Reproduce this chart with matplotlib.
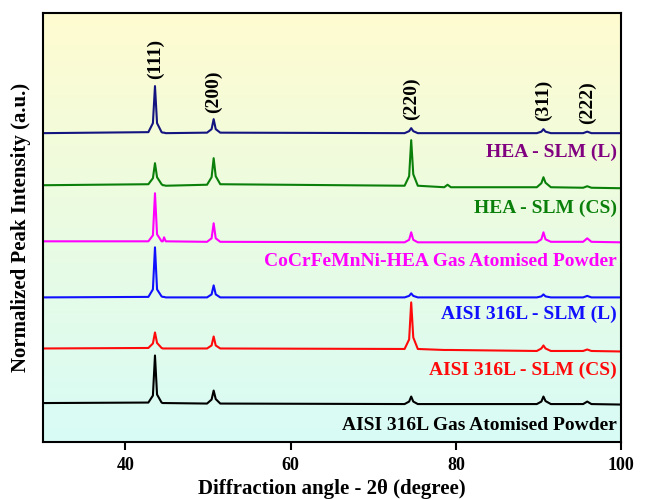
import numpy as np
import matplotlib
matplotlib.use('Agg')
import matplotlib.pyplot as plt
from matplotlib.colors import LinearSegmentedColormap

plt.rcParams['font.family'] = ['Liberation Serif', 'DejaVu Serif']
plt.rcParams['font.weight'] = 'bold'

# 2-theta sample points (peak feet, shoulders and tops)
two_theta = [30,
             42.8, 43.35, 43.6, 43.85, 44.4,
             44.55, 44.7, 44.9,
             49.9, 50.45, 50.7, 50.95, 51.5,
             73.8, 74.35, 74.6, 74.85, 75.4,
             78.6, 79.0, 79.4,
             89.8, 90.35, 90.6, 90.85, 91.5,
             95.4, 95.9, 96.4,
             100]

# stacked intensities (offset already included)
hea_slm_l = [308,
             309, 318, 355, 318, 309,
             308.5, 308.5, 308,
             308.5, 312, 322, 312, 308.5,
             308, 310, 313, 310, 308,
             308, 308, 308,
             308, 309.5, 312, 309.5, 308,
             308, 309.5, 308,
             308]
hea_slm_cs = [256,
              257, 263, 278, 264, 257,
              256, 256, 255.5,
              256.5, 264, 283, 265, 257,
              255.5, 265, 301, 267, 255.5,
              254, 256.5, 254,
              254, 258, 264, 258.5, 254,
              253.5, 255, 253.5,
              253]
hea_powder = [200,
              200, 206, 248, 207, 200,
              200, 204, 200,
              199.5, 203, 218, 203, 199.5,
              199, 201.5, 209, 201.5, 199,
              199, 199, 199,
              199, 202, 209, 202, 199.5,
              199.5, 203, 199.5,
              199]
ss_slm_l = [144,
            144.5, 152, 194, 152, 145,
            144.5, 144.5, 144,
            144, 147, 156, 147, 144,
            144, 145.5, 148, 145.5, 144,
            144, 144, 144,
            144, 145, 147, 145, 144,
            144, 145.5, 144,
            144]
ss_slm_cs = [93,
             93.5, 98, 109, 98.5, 93.5,
             93, 93, 93,
             93, 96, 105, 96, 93,
             92.5, 102, 139, 104, 92.5,
             91.5, 91.5, 91.5,
             90.5, 93, 96, 93, 90.5,
             90.5, 92, 90.5,
             90]
ss_powder = [38.5,
             39, 46, 86, 47, 39,
             38.5, 38.5, 38.5,
             38, 42, 51, 42.5, 38,
             37.5, 40, 45, 40, 37.5,
             37.5, 37.5, 37.5,
             37.5, 40, 45, 40.5, 37.5,
             37.5, 40, 37.5,
             37]

series = [hea_slm_l, hea_slm_cs, hea_powder, ss_slm_l, ss_slm_cs, ss_powder]
line_colors = ['#141480', '#0a800a', '#ff00ff', '#1010ff', '#ff0a0a', '#000000']
names = ['HEA - SLM (L)', 'HEA - SLM (CS)', 'CoCrFeMnNi-HEA Gas Atomised Powder',
         'AISI 316L - SLM (L)', 'AISI 316L - SLM (CS)', 'AISI 316L Gas Atomised Powder']
name_colors = ['#800080', '#0a800a', '#ff00ff', '#1010ff', '#ff0a0a', '#000000']
name_y = [289, 233, 180, 127, 71, 16]

planes = ['(111)', '(200)', '(220)', '(311)', '(222)']
plane_x = [43.6, 50.7, 74.6, 90.6, 95.9]
plane_y = [362, 328, 321, 320, 317]

fig = plt.figure(figsize=(6.45, 4.99), dpi=100)
ax = fig.add_axes([0.066, 0.115, 0.897, 0.859])

# yellow -> cyan background
bg = LinearSegmentedColormap.from_list('bg', ['#d8fcf6', '#eafbe2', '#fffcd0'])
ax.imshow(np.linspace(0, 1, 256).reshape(-1, 1)[::-1], cmap=bg, aspect='auto',
          extent=[30, 100, 0, 428], zorder=0)

for ys, c in zip(series, line_colors):
    ax.plot(two_theta, ys, color=c, linewidth=1.5, zorder=2)

for name, c, y in zip(names, name_colors, name_y):
    ax.text(99.5, y, name, color=c, fontsize=14, fontweight='bold',
            ha='right', va='center', zorder=3)

for p, x, y in zip(planes, plane_x, plane_y):
    ax.text(x, y, p, rotation=90, fontsize=14, fontweight='bold',
            ha='center', va='bottom', zorder=3)

ax.set_xlim(30, 100)
ax.set_ylim(0, 428)
ax.set_xticks([40, 60, 80, 100])
ax.set_yticks([])
ax.tick_params(axis='x', direction='out', length=6, width=1.5, labelsize=13, pad=5)
for lab in ax.get_xticklabels():
    lab.set_fontweight('bold')
for s in ax.spines.values():
    s.set_linewidth(1.5)
ax.set_xlabel('Diffraction angle - 2θ (degree)', fontsize=15, fontweight='bold', labelpad=4)
ax.set_ylabel('Normalized Peak Intensity (a.u.)', fontsize=15, fontweight='bold', labelpad=8)

fig.savefig('out.png', dpi=100)
